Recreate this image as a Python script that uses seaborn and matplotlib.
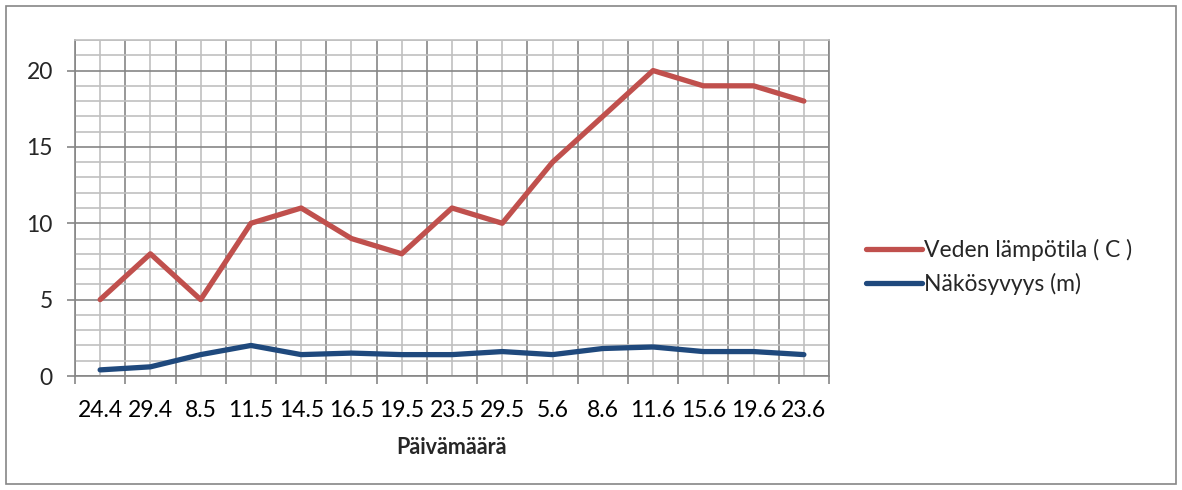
import matplotlib
matplotlib.use("Agg")
import matplotlib.pyplot as plt
import seaborn as sns
import pandas as pd
import numpy as np
from matplotlib.patches import Rectangle

dates = ["24.4", "29.4", "8.5", "11.5", "14.5", "16.5", "19.5", "23.5", "29.5",
         "5.6", "8.6", "11.6", "15.6", "19.6", "23.6"]
temp = [5, 8, 5, 10, 11, 9, 8, 11, 10, 14, 17, 20, 19, 19, 18]
depth = [0.4, 0.6, 1.4, 2.0, 1.4, 1.5, 1.4, 1.4, 1.6, 1.4, 1.8, 1.9, 1.6, 1.6, 1.4]
series_names = ["Veden lämpötila ( C )", "Näkösyvyys (m)"]
colors = ["#C0504D", "#1F497D"]
xlabel = "Päivämäärä"

sns.set_theme(style="white")
plt.rcParams["font.family"] = ["Lato", "DejaVu Sans"]

df = pd.concat([
    pd.DataFrame({"date": dates, "value": temp, "series": series_names[0]}),
    pd.DataFrame({"date": dates, "value": depth, "series": series_names[1]}),
])

fig = plt.figure(figsize=(11.82, 4.90), dpi=100)
ax = fig.add_axes([75/1182, 1-376/490, (829-75)/1182, (376-40)/490])

sns.lineplot(data=df, x="date", y="value", hue="series", palette=colors,
             linewidth=3.8, ax=ax, legend=True, sort=False)

n = len(dates)
fs = 16.5
ax.set_xlim(-0.5, n - 0.5)
ax.set_ylim(0, 22)

# x: major ticks at category boundaries (dark grid), minor ticks at centers (labels, light grid)
ax.set_xticks(np.arange(-0.5, n, 1.0))
ax.set_xticklabels([])
ax.set_xticks(np.arange(0, n, 1.0), minor=True)
ax.set_xticklabels(dates, minor=True, fontsize=fs)
ax.set_yticks(np.arange(0, 21, 5))
ax.set_yticklabels([str(v) for v in range(0, 21, 5)], fontsize=fs)
ax.set_yticks(np.arange(0, 23, 1), minor=True)

ax.grid(which="major", color="#868686", linewidth=1.2)
ax.grid(which="minor", color="#c0c0c0", linewidth=1.2)
ax.set_axisbelow(True)
ax.tick_params(axis="x", which="major", length=6, color="#868686", width=1.2, direction="out", bottom=True)
ax.tick_params(axis="x", which="minor", length=0, pad=17, colors="black", labelsize=fs)
ax.tick_params(axis="y", which="major", length=6, color="#868686", width=1.2, direction="out", left=True, pad=10)
ax.tick_params(axis="y", which="minor", length=0)

for s in ["left", "bottom", "right"]:
    ax.spines[s].set_color("#868686")
    ax.spines[s].set_linewidth(1.2)
ax.spines["top"].set_color("#c0c0c0")
ax.spines["top"].set_linewidth(1.2)

ax.set_xlabel(xlabel, fontsize=15.5, fontweight="bold", labelpad=12)
ax.set_ylabel("")

handles, labels = ax.get_legend_handles_labels()
ax.legend(handles, labels, loc="center left", bbox_to_anchor=(866/1182, 1-267/490),
          bbox_transform=fig.transFigure, frameon=False, fontsize=fs,
          handlelength=2.45, handletextpad=0.1, labelspacing=0.55, borderpad=0,
          borderaxespad=0)

fig.patches.append(Rectangle((6/1182, 6/490), 1170/1182, 478/490, transform=fig.transFigure,
                             fill=False, edgecolor="#868686", linewidth=1.2))

fig.savefig("out.png", dpi=100)
